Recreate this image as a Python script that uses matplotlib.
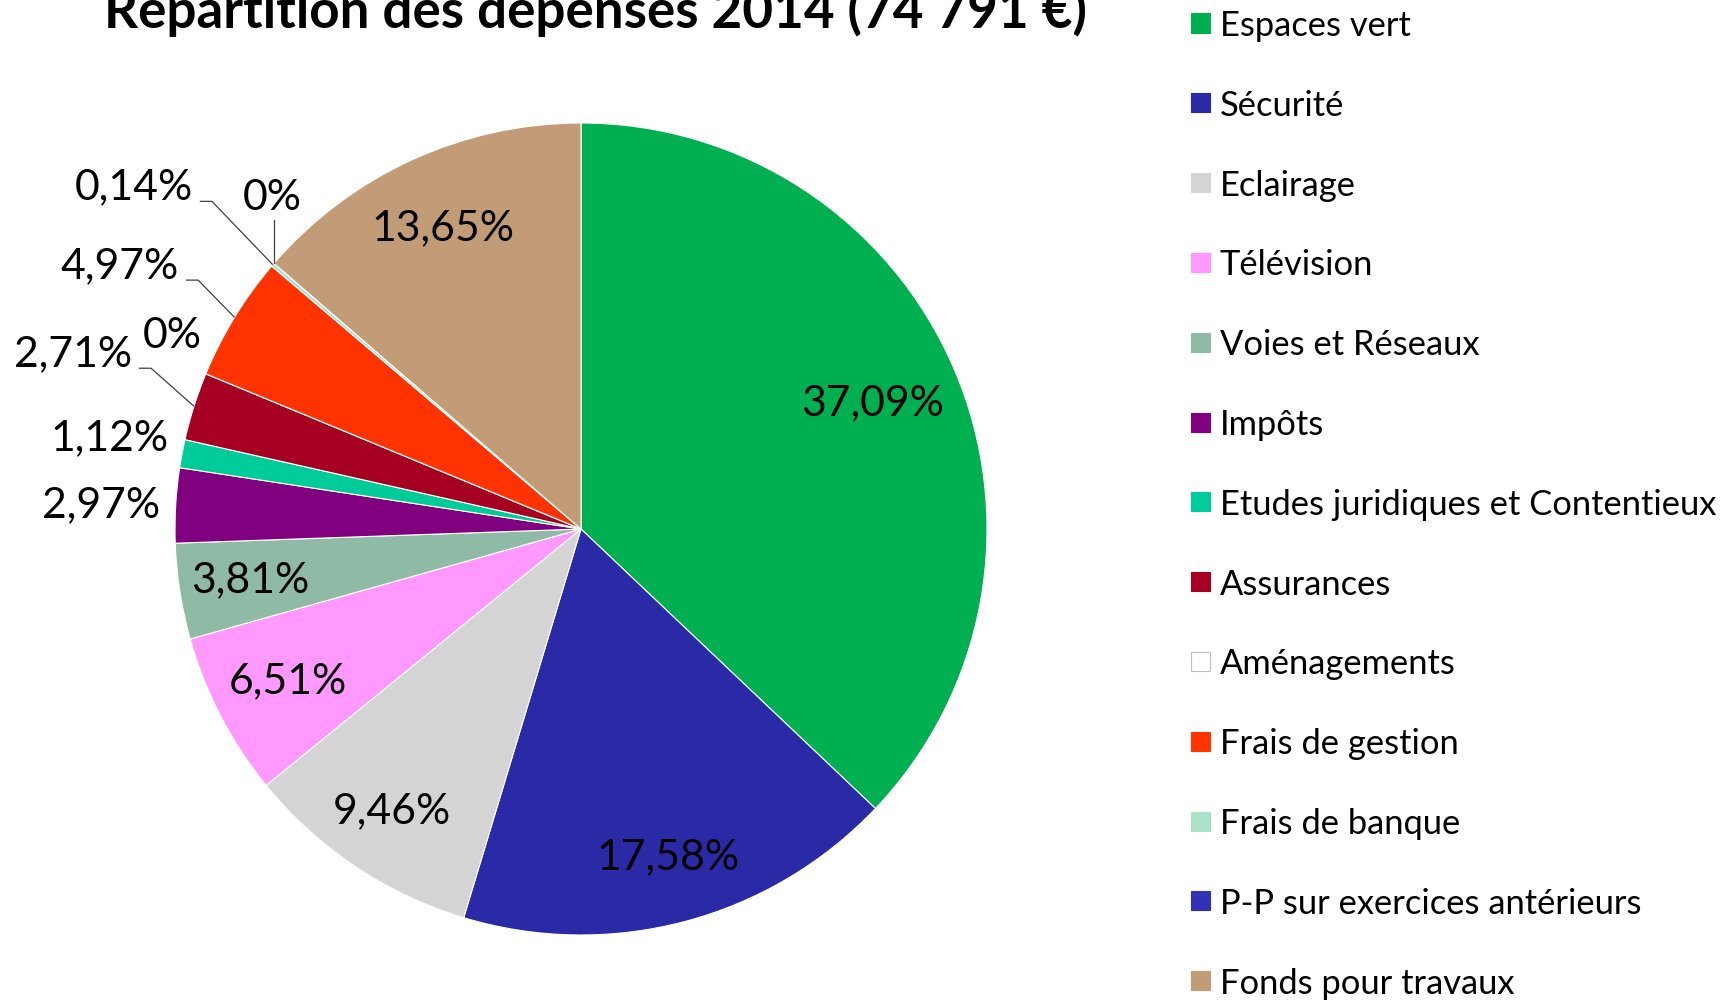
import numpy as np
import matplotlib
matplotlib.use("Agg")
import matplotlib.pyplot as plt
from matplotlib.patches import Rectangle

plt.rcParams['font.family'] = ['Lato', 'DejaVu Sans']

# ---------------- data ----------------
title = "Répartition des dépenses 2014 (74 791 €)"
categories = ["Espaces vert", "Sécurité", "Eclairage", "Télévision", "Voies et Réseaux",
              "Impôts", "Etudes juridiques et Contentieux", "Assurances", "Aménagements",
              "Frais de gestion", "Frais de banque", "P-P sur exercices antérieurs",
              "Fonds pour travaux"]
values = [37.09, 17.58, 9.46, 6.51, 3.81, 2.97, 1.12, 2.71, 0.0, 4.97, 0.14, 0.0, 13.65]
colors = ["#00B050", "#2B2AA6", "#D4D4D4", "#FF99FF", "#8FBAA5", "#800080", "#00CC99",
          "#A50021", "#FFFFFF", "#FF3300", "#A9E2C9", "#3232B8", "#C19C76"]

def fmt(v):
    if v == 0:
        return "0%"
    return f"{v:.2f}".replace(".", ",") + "%"

# ---------------- layout ----------------
W, H = 1729, 1000
fig = plt.figure(figsize=(W / 100, H / 100), dpi=100)
cx, cy, R = 581, 529, 406
ax = fig.add_axes([(cx - R) / W, (H - cy - R) / H, 2 * R / W, 2 * R / H])

wedges, _ = ax.pie(values, colors=colors, startangle=90, counterclock=False, radius=1,
                   wedgeprops=dict(edgecolor='white', linewidth=0.8))
ax.set_xlim(-1, 1)
ax.set_ylim(-1, 1)
ax.set_aspect('equal')
ax.axis('off')

renderer = fig.canvas.get_renderer()

def fit(t, target_px):
    w = t.get_window_extent(renderer).width
    t.set_fontsize(t.get_fontsize() * target_px / w)

# inside labels: index -> radial fraction
inside = {0: 0.782, 1: 0.836, 2: 0.837, 3: 0.814, 4: 0.824, 12: 0.815}
# outside labels: index -> (x, y, leader type, ha)
outside = {5: (-1.037, 0.059, None, 'right'),
           6: (-1.017, 0.224, None, 'right'),
           7: (-1.106, 0.431, 'elbow', 'right'),
           8: (-1.007, 0.475, None, 'center'),
           9: (-0.990, 0.648, 'elbow', 'right'),
           10: (-0.956, 0.842, 'elbow', 'right'),
           11: (-0.761, 0.815, 'vertical', 'center')}

def mid_angle(w):
    return np.deg2rad((w.theta1 + w.theta2) / 2)

probe = ax.text(0, 0, fmt(values[0]), fontsize=30)
fit(probe, 143)
label_size = probe.get_fontsize()
probe.remove()

for i, r in inside.items():
    a = mid_angle(wedges[i])
    ax.text(r * np.cos(a), r * np.sin(a), fmt(values[i]), ha='center', va='center',
            fontsize=label_size, color='black')

for i, (x, y, leader, ha) in outside.items():
    a = mid_angle(wedges[i])
    ex, ey = np.cos(a), np.sin(a)
    ax.text(x, y, fmt(values[i]), ha=ha, va='center', fontsize=label_size, color='black')
    if leader == 'elbow':
        ly = y - 0.035
        ax.plot([x + 0.017, x + 0.047, ex], [ly, ly, ey], color='#404040', lw=0.9,
                clip_on=False, solid_capstyle='butt')
    elif leader == 'vertical':
        ax.plot([ex, ex], [y - 0.055, ey], color='#404040', lw=0.9, clip_on=False)

# title
t = fig.text(596 / W, 1 - 28 / H, title, ha='center', va='baseline', fontsize=36,
             fontweight='bold', color='black')
fit(t, 983)

# legend (manual)
x_mark, msize, x_text = 1191, 19, 1220
y0, dy = 23, 79.8
legend_size = 24
lt = []
for k, (name, col) in enumerate(zip(categories, colors)):
    yc = y0 + k * dy
    ec = '#BFBFBF' if col.upper() == '#FFFFFF' else col
    fig.patches.append(Rectangle((x_mark / W, 1 - (yc + msize / 2) / H), msize / W, msize / H,
                                 transform=fig.transFigure, facecolor=col, edgecolor=ec,
                                 linewidth=0.8))
    lt.append(fig.text(x_text / W, 1 - yc / H, name, ha='left', va='center_baseline',
                       fontsize=legend_size, color='black'))
w_long = lt[6].get_window_extent(renderer).width
new_size = legend_size * 496 / w_long
for tt in lt:
    tt.set_fontsize(new_size)

fig.savefig("out.png", dpi=100, facecolor='white')
